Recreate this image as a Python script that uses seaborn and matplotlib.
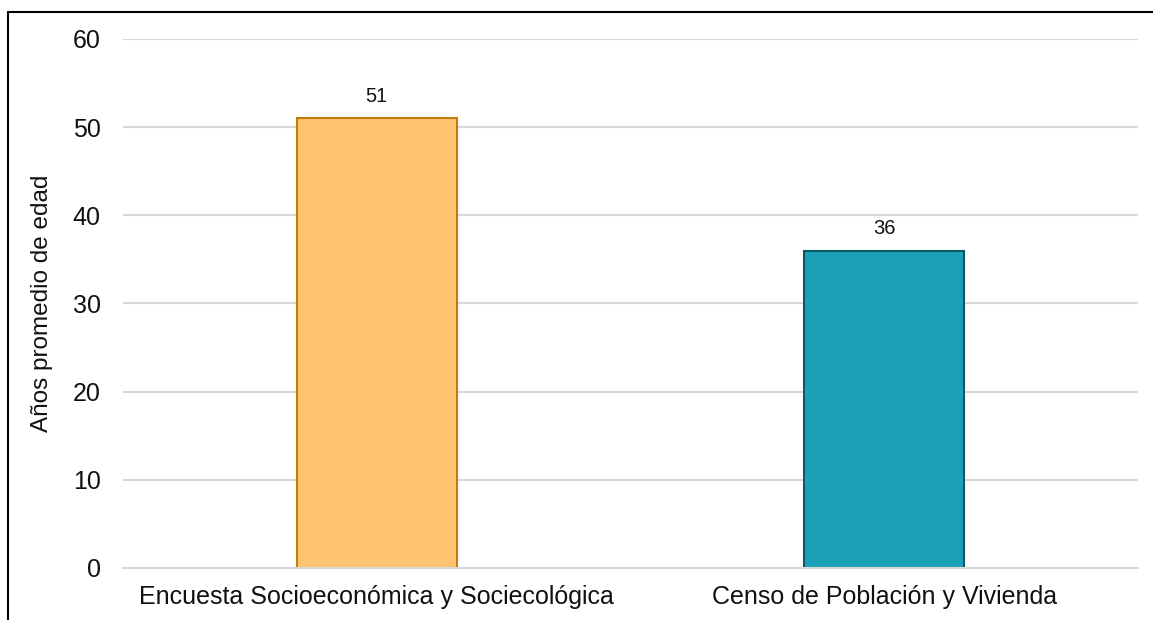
import matplotlib
matplotlib.use("Agg")
import matplotlib.pyplot as plt
import seaborn as sns
import pandas as pd
from matplotlib.lines import Line2D

# ── Datos ────────────────────────────────────────────────────────────────
categorias = ["Encuesta Socioeconómica y Sociecológica",
              "Censo de Población y Vivienda"]
edad_promedio = [51, 36]
colores_relleno = ["#FFC470", "#1AA1B8"]
colores_borde   = ["#C47A10", "#0E5A64"]
y_ticks = [0, 10, 20, 30, 40, 50, 60]

df = pd.DataFrame({"fuente": categorias, "edad": edad_promedio})

sns.set_theme(style="white")
plt.rcParams["font.family"] = ["Liberation Sans", "DejaVu Sans"]

fig = plt.figure(figsize=(11.53, 6.2), dpi=100)
ax = fig.add_axes([0.1067, 0.0839, 0.8803, 0.8532])

sns.barplot(data=df, x="fuente", y="edad", hue="fuente",
            palette=colores_relleno, width=0.316, saturation=1,
            legend=False, ax=ax)

for patch, borde in zip(ax.patches, colores_borde):
    patch.set_edgecolor(borde)
    patch.set_linewidth(1.5)

for cont in ax.containers:
    ax.bar_label(cont, fmt="%d", padding=9, fontsize=14.5, color="#111111")

ax.set_ylim(0, 60)
ax.set_xlim(-0.5, 1.5)
ax.set_yticks(y_ticks)
ax.yaxis.grid(True, color="#d9d9d9", linewidth=1.5)
ax.set_axisbelow(True)
for s in ["top", "right", "left"]:
    ax.spines[s].set_visible(False)
ax.spines["bottom"].set_color("#d9d9d9")
ax.spines["bottom"].set_linewidth(1.5)
ax.tick_params(axis="both", length=0, labelsize=18, colors="#111111")
ax.tick_params(axis="y", pad=16)
ax.tick_params(axis="x", pad=12)
ax.set_xlabel("")
ax.set_ylabel("Años promedio de edad", fontsize=17.5, color="#111111", labelpad=14)

# marco recortado (solo arriba e izquierda visibles)
fig.add_artist(Line2D([8 / 1153, 1.01], [1 - 12 / 620, 1 - 12 / 620],
                      color="black", linewidth=1.5, transform=fig.transFigure))
fig.add_artist(Line2D([8 / 1153, 8 / 1153], [1 - 12 / 620, -0.01],
                      color="black", linewidth=1.5, transform=fig.transFigure))

fig.savefig("out.png", dpi=100)
